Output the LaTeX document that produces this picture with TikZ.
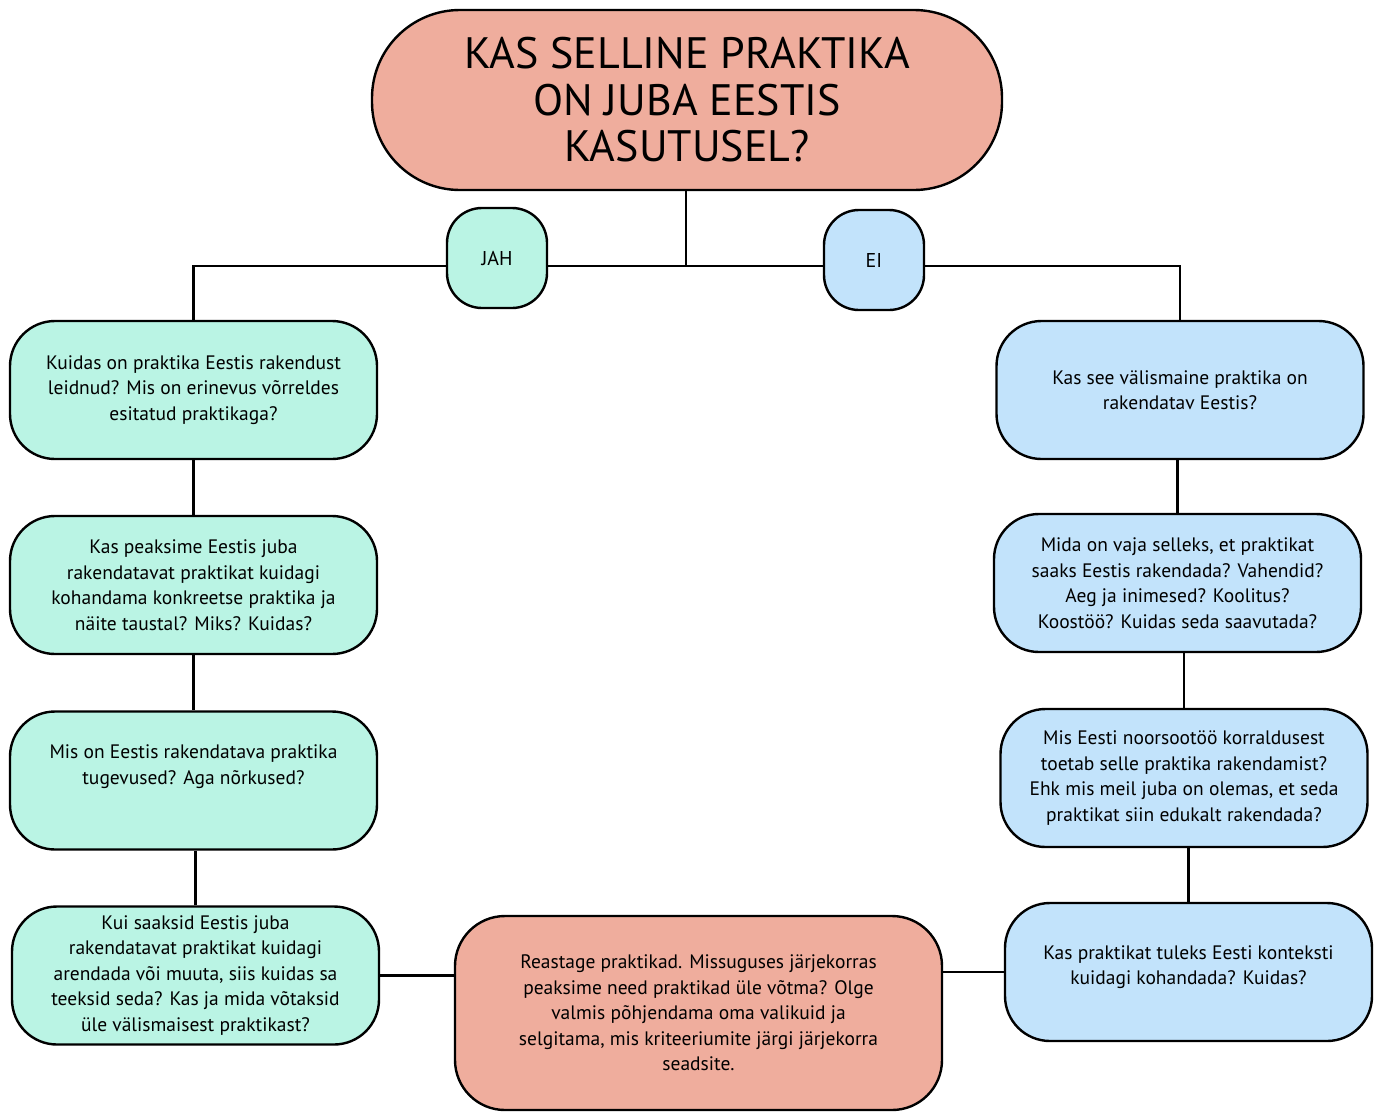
\documentclass[tikz,border=0pt]{standalone}
\usepackage{fontspec}
\setmainfont{PT Sans}
\newfontfamily\titlefont{PT Sans}
\definecolor{salmon}{HTML}{EFAD9D}
\definecolor{mint}{HTML}{BAF4E4}
\definecolor{sky}{HTML}{C2E3FB}
\tikzset{
  qbox/.style={draw=black, line width=2.4pt, rounded corners=45pt, minimum width=367pt, minimum height=138pt, align=center, inner sep=0pt, font=\fontsize{19.5}{25.5}\selectfont},
  greenbox/.style={qbox, fill=mint},
  bluebox/.style={qbox, fill=sky},
  pill/.style={draw=black, line width=2.4pt, rounded corners=35pt, minimum width=100pt, minimum height=100pt, inner sep=0pt, font=\fontsize{20}{22}\selectfont},
  link/.style={draw=black, line width=2.2pt}
}
\begin{document}
\begin{tikzpicture}[x=1pt,y=-1pt]
\useasboundingbox (0,0) rectangle (1378,1111);
\node[draw=black, line width=2.4pt, fill=salmon, rounded corners=88pt, minimum width=630pt, minimum height=180pt, align=center, inner sep=0pt, font=\titlefont\fontsize{44}{46.5}\selectfont] (title) at (687,100) {KAS SELLINE PRAKTIKA\\ON JUBA EESTIS\\KASUTUSEL?};
\coordinate (hub) at (686,266);
\node[pill, fill=mint] (jah) at (497,258) {JAH};
\node[pill, fill=sky] (ei) at (874,260) {EI};

\node[greenbox] (l1) at (193.5,390) {Kuidas on praktika Eestis rakendust\\leidnud? Mis on erinevus võrreldes\\esitatud praktikaga?};
\node[greenbox] (l2) at (193.5,585) {Kas peaksime Eestis juba\\rakendatavat praktikat kuidagi\\kohandama konkreetse praktika ja\\näite taustal? Miks? Kuidas?};
\node[greenbox] (l3) at (193.5,780.5) {Mis on Eestis rakendatava praktika\\tugevused? Aga nõrkused?\\[6pt]\mbox{}};
\node[greenbox] (l4) at (195.5,975.5) {Kui saaksid Eestis juba\\rakendatavat praktikat kuidagi\\arendada või muuta, siis kuidas sa\\teeksid seda? Kas ja mida võtaksid\\üle välismaisest praktikast?};

\node[bluebox] (r1) at (1180,390) {Kas see välismaine praktika on\\rakendatav Eestis?};
\node[bluebox] (r2) at (1177.5,583) {Mida on vaja selleks, et praktikat\\saaks Eestis rakendada? Vahendid?\\Aeg ja inimesed? Koolitus?\\Koostöö? Kuidas seda saavutada?};
\node[bluebox] (r3) at (1184,778) {Mis Eesti noorsootöö korraldusest\\toetab selle praktika rakendamist?\\Ehk mis meil juba on olemas, et seda\\praktikat siin edukalt rakendada?};
\node[bluebox] (r4) at (1188.5,972) {Kas praktikat tuleks Eesti konteksti\\kuidagi kohandada? Kuidas?\\[-12pt]\mbox{}};

\node[qbox, fill=salmon, minimum width=487pt, minimum height=194pt, rounded corners=50pt] (c) at (698.5,1013) {Reastage praktikad. Missuguses järjekorras\\peaksime need praktikad üle võtma? Olge\\valmis põhjendama oma valikuid ja\\selgitama, mis kriteeriumite järgi järjekorra\\seadsite.};

\draw[link] (title.south -| hub) -- (hub);
\draw[link] (jah.east |- hub) -- (hub) -- (ei.west |- hub);
\draw[link] (jah.west |- hub) -| (l1.north);
\draw[link] (ei.east |- hub) -| (r1.north);
\draw[link] (l1.south) -- (l2.north);
\draw[link] (l2.south) -- (l3.north);
\draw[link] (l4.north) -- (l4.north |- l3.south);
\draw[link] (r2.north) -- (r2.north |- r1.south);
\draw[link] (r3.north) -- (r3.north |- r2.south);
\draw[link] (r4.north) -- (r4.north |- r3.south);
\draw[link] (l4.east) -- (l4.east -| c.west);
\draw[link] (c.east |- r4.west) -- (r4.west);
\end{tikzpicture}
\end{document}
